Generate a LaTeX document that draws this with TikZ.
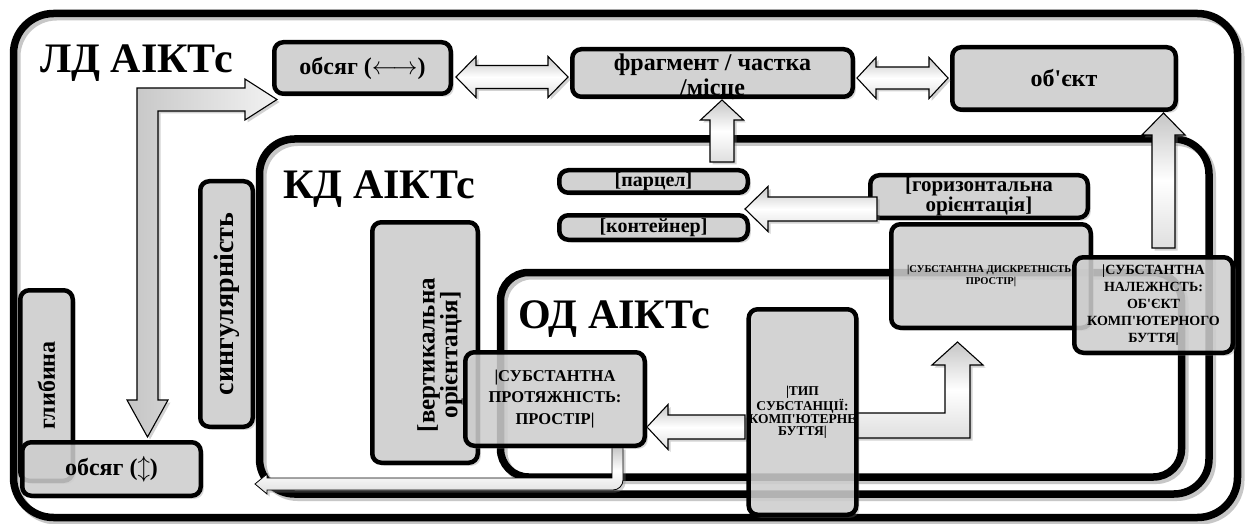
\documentclass[tikz,border=0pt]{standalone}
\usepackage{fontspec}
\usepackage{graphicx}
\setmainfont{Liberation Serif}[BoldFont={Liberation Serif Bold}]
\newfontfamily\serifbold{Liberation Serif Bold}
\usetikzlibrary{shadows,calc}
\definecolor{boxgray}{RGB}{210,210,210}
\newcommand\fsz[2]{\serifbold\fontsize{#1}{#2}\selectfont}
\newcommand\ap{\textquotesingle}
% single block arrow: tail x, tail y, direction angle, length, shaft half width, head half width, head length
\newcommand\blkarrow[7]{%
  \begin{scope}[shift={(#1,#2)},rotate=#3]
    \path[blk] (0,-#5) -- ({#4-#7},-#5) -- ({#4-#7},-#6) -- (#4,0)
      -- ({#4-#7},#6) -- ({#4-#7},#5) -- (0,#5) -- cycle;
  \end{scope}}
% horizontal double block arrow: left tip x, y, right tip x, shaft half, head half, head length
\newcommand\dblarrow[6]{%
  \path[blk] (#1,#2) -- ({#1+#6},{#2-#5}) -- ({#1+#6},{#2-#4}) -- ({#3-#6},{#2-#4})
    -- ({#3-#6},{#2-#5}) -- (#3,#2) -- ({#3-#6},{#2+#5}) -- ({#3-#6},{#2+#4})
    -- ({#1+#6},{#2+#4}) -- ({#1+#6},{#2+#5}) -- cycle;}
\tikzset{
  zone/.style={draw, line width=7.5pt, rounded corners=#1, inner sep=0pt,
    preaction={draw=black!22, line width=8pt, transform canvas={xshift=3pt,yshift=-3pt}}},
  box/.style={draw, line width=4.5pt, rounded corners=9pt, fill=boxgray, align=center,
    inner sep=0pt, text=black,
    drop shadow={shadow xshift=3pt,shadow yshift=-3pt,opacity=.3}},
  glass/.style={box, fill opacity=.82, text opacity=1},
  blk/.style={draw=black, line width=1.1pt, top color=gray!45, bottom color=gray!25,
    middle color=white,
    drop shadow={shadow xshift=2.5pt,shadow yshift=-2.5pt,opacity=.35}},
  title/.style={font=\fsz{42}{42}, inner sep=0pt, anchor=base west},
}
\begin{document}
\begin{tikzpicture}[x=1pt,y=-1pt]
\useasboundingbox (0,0) rectangle (1251,524);
\fill[white] (0,0) rectangle (1251,524);

% nested domains
\node[zone=40pt, minimum width=1224pt, minimum height=504pt] (LD) at (625.5,265.5) {};
\node[title] (LDt) at (40,73) {ЛД АІКТс};
\node[zone=35pt, minimum width=949.5pt, minimum height=355pt] (KD) at (734.25,316.5) {};
\node[title] (KDt) at (283,199) {КД АІКТс};
\node[zone=28pt, minimum width=681pt, minimum height=204.5pt] (OD) at (841,374.75) {};
\node[title] (ODt) at (518,328) {ОД АІКТс};

% opaque boxes
\node[box, font=\fsz{24}{24}, minimum width=52.5pt, minimum height=190.5pt] (glib) at (46.5,385.5) {\rotatebox{90}{глибина}};
\node[box, font=\fsz{28}{28}, minimum width=52.5pt, minimum height=245.5pt] (sing) at (226.5,304) {\rotatebox{90}{сингулярність}};
\node[box, minimum width=105.5pt, minimum height=240.5pt] (vert) at (425,342.5) {};
\node[font=\fsz{25}{16}, inner sep=0pt] (vertt) at (440,355) {\rotatebox{90}{\begin{tabular}{@{}c@{}}[вертикальна\\орієнтація]\end{tabular}}};
\node[box, font=\fsz{24}{24}, minimum width=176.5pt, minimum height=51.5pt] (obsH) at (362.5,68) {обсяг ($\longleftrightarrow$)};
\node[box, font=\fsz{24}{25}, minimum width=280.5pt, minimum height=47.5pt] (frag) at (712.5,73) {};
\node[font=\fsz{24}{25}, align=center, inner sep=0pt] (fragt) at (712.5,77) {фрагмент / частка\\/місце};
\node[box, font=\fsz{24}{24}, minimum width=223.5pt, minimum height=62.5pt] (obj) at (1064,78.5) {об\ap єкт};
\node[box, font=\fsz{20}{20}, minimum width=188.5pt, minimum height=22.5pt] (parcel) at (653.5,181.5) {[парцел]};
\node[box, font=\fsz{20}{20}, minimum width=188.5pt, minimum height=24.5pt] (cont) at (653.5,227.5) {[контейнер]};
\node[box, font=\fsz{21}{20}, minimum width=217.5pt, minimum height=42.5pt] (horiz) at (979,196.5) {[горизонтальна\\орієнтація]};

% block arrows
\dblarrow{456}{77}{568}{11.5}{20.5}{20}
\dblarrow{857}{78}{948}{11}{20.5}{19}
\blkarrow{722}{162}{90}{62}{12}{21.5}{20}
\blkarrow{1163.5}{248}{90}{135}{11.5}{21.5}{22}
\blkarrow{877}{209}{180}{132}{12}{22.5}{23}
\blkarrow{745}{427}{180}{98}{12}{22.5}{21}
% bent double arrow to both volumes
\path[blk, left color=gray!45, right color=white!90!gray] (137,400) -- (137,88) -- (245,88) -- (245,79) -- (277,99.5) -- (245,120)
  -- (245,111) -- (158,111) -- (158,400) -- (168,400) -- (147.5,437) -- (127,400) -- cycle;
% bent arrow from the substance type up to discreteness
\path[blk] (856,413) -- (945,413) -- (945,365) -- (932,365) -- (957.5,342) -- (983,365)
  -- (970,365) -- (970,438) -- (856,438) -- cycle;
% thin return arrow along the bottom
\path[blk, line width=0.8pt] (612,447) -- (612,478) -- (267,478) -- (267,474) -- (255,484)
  -- (267,494) -- (267,490) -- (613,490) arc[start angle=-90, end angle=0, radius=10pt]
  -- (623,447) -- cycle;

% translucent boxes
\node[glass, font=\fsz{24}{24}, minimum width=178.5pt, minimum height=53.5pt] (obsV) at (111.5,469) {обсяг ($\updownarrow$)};
\node[glass, font=\fsz{16.5}{21.7}, minimum width=179.5pt, minimum height=93.5pt] (prot) at (555,399) {|СУБСТАНТНА\\ПРОТЯЖНІСТЬ:\\ПРОСТІР|};
\node[glass, font=\fsz{13.5}{11.7}, minimum width=106.5pt, minimum height=205.5pt] (typ) at (802.5,412) {|ТИП\\СУБСТАНЦІЇ:\\КОМП\ap ЮТЕРНЕ\\БУТТЯ|};
\node[glass, font=\fsz{10.5}{12}, minimum width=199.5pt, minimum height=103.5pt] (dysk) at (991,276) {|СУБСТАНТНА ДИСКРЕТНІСТЬ:\\ПРОСТІР|};
\node[glass, font=\fsz{14}{17}, minimum width=158.5pt, minimum height=95.5pt] (nal) at (1153.5,305) {|СУБСТАНТНА\\НАЛЕЖНСТЬ:\\ОБ\ap ЄКТ\\КОМП\ap ЮТЕРНОГО\\БУТТЯ|};
\end{tikzpicture}
\end{document}
